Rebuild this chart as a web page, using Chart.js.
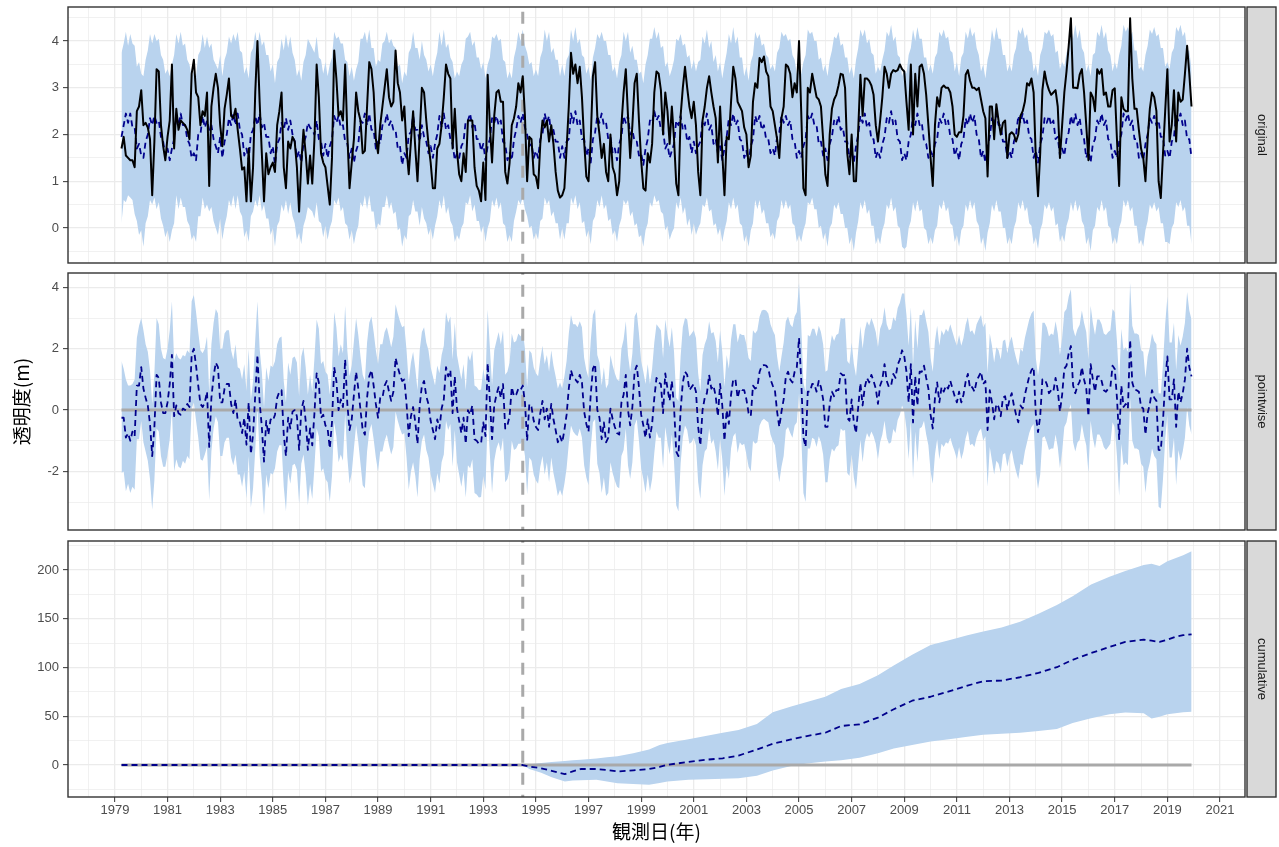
<!DOCTYPE html>
<html><head><meta charset="utf-8">
<script src="https://cdn.jsdelivr.net/npm/chart.js@4.4.1/dist/chart.umd.min.js"></script>
<style>
html,body{margin:0;padding:0;background:#fff;}
#wrap{position:relative;width:1279px;height:847px;overflow:hidden;background:#fff;}
canvas{position:absolute;left:0;}
</style></head><body>
<div id="wrap">
<canvas id="c1" width="1279" height="266" style="top:0px"></canvas>
<canvas id="c2" width="1279" height="267" style="top:266px"></canvas>
<canvas id="c3" width="1279" height="314" style="top:533px"></canvas>
</div>
<script>
// ---- monthly series, starting April 1979 ----
const startYear = 1979, startMonth = 4;
const interventionDate = 1994.5;

const observed = [
1.70,1.95,1.55,1.50,1.45,1.45,1.30,2.50,2.60,
2.95,2.20,2.25,2.15,1.90,0.70,1.85,3.40,3.35,2.20,1.75,1.45,
1.95,2.30,3.50,1.70,2.55,2.10,2.30,2.25,2.20,2.10,1.90,3.30,
3.60,2.90,2.80,2.20,2.50,2.40,2.90,0.90,2.60,3.00,3.30,3.00,
2.20,1.75,2.55,2.85,3.20,2.40,2.35,2.55,2.10,1.70,1.25,1.30,
0.57,1.70,0.57,1.30,2.90,4.00,2.70,1.60,0.57,1.60,1.15,1.30,
1.40,1.20,2.20,2.50,2.90,1.30,0.85,1.85,1.70,1.95,1.85,1.30,
0.35,1.40,2.10,1.60,0.95,1.55,0.95,1.90,3.50,2.80,1.60,1.40,
1.30,0.90,0.50,1.50,3.80,3.20,2.40,2.50,2.30,3.50,2.00,0.85,
1.40,1.90,2.90,2.50,2.30,1.60,1.65,2.60,3.55,3.40,2.90,1.90,
1.60,2.20,2.60,3.00,3.40,2.80,2.60,2.70,3.80,3.10,2.90,2.30,
2.60,1.70,1.15,1.85,2.50,1.70,1.00,2.00,3.00,2.90,2.30,1.80,
1.40,0.85,0.85,1.70,1.80,2.20,2.80,3.50,3.30,3.20,1.70,2.55,
1.65,1.15,1.00,1.60,1.20,2.30,2.30,2.30,1.30,0.90,0.80,0.57,
1.40,0.60,3.28,2.20,1.40,2.40,2.90,2.95,2.70,2.70,1.20,0.95,
1.40,2.20,2.35,2.60,3.10,2.90,3.25,2.40,1.00,1.95,1.90,1.15,
1.10,0.85,1.80,2.30,2.15,2.30,1.85,2.20,1.80,1.20,0.80,0.65,
0.70,0.85,1.70,2.60,3.75,3.30,3.50,3.10,3.45,2.80,1.85,1.10,
1.00,1.90,3.25,3.55,2.40,2.00,1.50,1.80,1.20,1.00,2.00,1.30,
1.15,0.70,1.00,2.20,2.90,3.40,2.40,1.50,2.20,3.10,3.30,2.30,
1.45,0.85,0.80,1.60,1.40,1.80,2.90,3.35,3.30,2.95,2.00,2.90,
2.50,1.80,2.60,1.90,0.95,0.70,2.40,3.00,3.45,3.00,2.60,2.35,
2.70,2.20,1.20,0.70,2.30,2.60,3.00,3.25,2.90,2.60,2.35,1.40,
2.60,1.60,0.70,1.95,1.90,2.70,3.45,3.20,2.70,2.60,2.50,2.15,
2.00,1.30,1.55,2.70,3.10,3.00,3.64,3.55,3.67,3.35,3.25,2.60,
2.50,2.20,1.90,1.50,2.35,2.60,3.50,3.45,3.30,2.80,3.10,2.90,
4.00,2.50,0.85,0.70,3.00,2.90,3.30,3.05,2.80,2.75,2.60,1.90,
1.15,0.90,2.00,2.55,2.75,2.85,3.05,3.30,3.28,3.00,1.60,1.15,
2.00,1.00,1.00,2.10,3.28,2.40,3.20,3.20,3.15,3.05,2.85,2.20,
1.85,2.30,2.80,3.45,3.30,3.00,3.30,3.38,3.35,3.38,3.50,3.40,
3.35,2.70,2.10,3.50,2.00,3.30,2.60,3.45,3.50,3.30,2.85,2.20,
1.50,0.90,2.20,2.80,2.60,3.00,3.05,3.00,3.00,2.90,2.60,2.00,
1.95,2.05,2.05,2.40,3.28,3.38,3.15,3.00,3.00,2.95,3.00,2.75,
2.50,2.35,1.10,2.60,2.60,1.90,2.65,2.30,2.00,2.25,2.30,1.50,
2.00,2.05,2.00,1.85,2.00,2.40,2.50,2.70,3.10,3.05,3.20,2.90,
1.50,0.68,1.60,2.95,3.35,3.10,2.95,2.85,2.90,2.95,2.60,1.50,
2.20,2.90,3.35,3.90,4.49,3.00,3.00,2.99,3.28,3.40,2.90,2.20,
1.45,2.90,2.80,2.50,3.40,3.30,3.40,2.85,2.90,2.60,2.60,2.95,
2.99,1.90,0.90,2.80,2.55,2.50,2.50,4.49,3.20,2.55,2.55,2.10,
1.70,1.50,1.00,1.90,2.55,2.90,2.80,2.50,1.00,0.64,1.60,2.50,
3.40,1.85,2.20,2.95,1.85,2.90,2.70,2.75,3.30,3.90,3.30,2.60
];

const predicted = [
1.95,2.20,2.45,2.25,2.45,2.15,2.15,1.70,1.80,
1.55,1.50,1.85,2.00,2.35,2.20,2.40,2.25,2.30,1.95,1.85,1.55,
1.70,1.45,1.70,1.90,2.40,2.20,2.45,2.20,2.20,1.90,1.80,1.50,
1.60,1.45,2.00,2.00,2.40,2.15,2.30,2.10,2.20,1.90,1.75,1.60,
1.95,1.50,1.85,2.00,2.35,2.20,2.45,2.20,2.45,2.10,2.00,1.55,
1.70,1.45,2.00,2.10,2.40,2.20,2.45,2.15,2.25,1.95,1.95,1.60,
1.75,1.35,1.80,1.90,2.25,2.10,2.35,2.10,2.30,2.00,1.85,1.50,
1.65,1.40,1.80,1.95,2.25,2.15,2.10,2.00,2.30,1.90,1.85,1.55,
1.80,1.50,1.75,1.90,2.40,2.25,2.40,2.15,2.20,1.85,1.80,1.50,
1.70,1.40,1.65,1.80,2.30,2.25,2.45,2.20,2.45,2.10,2.10,1.70,
1.85,1.80,2.20,2.20,2.45,2.20,2.30,2.10,2.10,1.70,1.75,1.35,
1.60,1.50,2.00,2.05,2.40,2.10,2.10,1.85,2.20,1.95,1.85,1.60,
1.75,1.50,1.80,2.00,2.40,2.15,2.45,2.10,2.20,1.90,1.80,1.45,
1.60,1.50,1.75,1.85,2.30,2.30,2.45,2.15,2.25,1.90,1.90,1.65,
1.80,1.45,1.75,1.90,2.35,2.25,2.40,2.20,2.30,1.85,1.80,1.45,
1.60,1.45,1.90,2.10,2.40,2.25,2.45,2.15,2.00,1.75,1.80,1.50,
1.65,1.50,1.90,2.00,2.45,2.25,2.40,2.00,2.10,1.85,1.85,1.50,
1.75,1.50,1.85,1.90,2.45,2.25,2.50,2.20,2.30,1.90,1.90,1.55,
1.70,1.40,1.90,2.05,2.40,2.25,2.45,2.20,2.25,1.90,1.95,1.60,
1.70,1.45,1.80,1.95,2.40,2.25,2.40,2.00,2.10,1.85,1.85,1.55,
1.60,1.35,1.70,1.90,2.30,2.25,2.50,2.30,2.40,2.10,2.10,1.70,
1.80,1.50,1.65,1.80,2.30,2.20,2.40,2.10,2.20,1.85,1.95,1.60,
1.85,1.60,1.75,1.85,2.30,2.20,2.45,2.10,2.20,1.80,1.90,1.60,
1.75,1.45,1.70,1.95,2.35,2.20,2.45,2.20,2.30,1.90,1.85,1.50,
1.65,1.40,1.75,1.90,2.40,2.25,2.40,2.10,2.20,1.90,1.90,1.60,
1.70,1.55,1.95,2.05,2.40,2.25,2.40,2.20,2.30,1.90,1.85,1.50,
1.65,1.50,1.75,1.90,2.40,2.30,2.45,2.20,2.20,1.80,1.85,1.55,
1.70,1.45,1.80,1.95,2.30,2.20,2.40,2.10,2.15,1.85,1.85,1.50,
1.65,1.40,1.75,2.00,2.40,2.25,2.45,2.15,2.25,1.90,1.90,1.50,
1.65,1.50,1.80,1.95,2.35,2.25,2.50,2.20,2.30,1.90,1.85,1.45,
1.60,1.45,1.85,2.00,2.40,2.20,2.45,2.20,2.25,1.85,1.80,1.50,
1.65,1.50,1.80,1.90,2.35,2.25,2.45,2.20,2.30,1.95,1.90,1.55,
1.70,1.45,1.80,1.90,2.35,2.20,2.45,2.25,2.40,2.00,1.90,1.50,
1.65,1.40,1.75,1.95,2.35,2.20,2.45,2.20,2.20,1.85,1.85,1.50,
1.65,1.50,1.85,2.00,2.40,2.25,2.45,2.20,2.30,1.95,1.90,1.50,
1.65,1.40,1.80,1.95,2.35,2.25,2.40,2.20,2.30,1.90,1.95,1.55,
1.70,1.55,1.90,2.05,2.40,2.20,2.45,2.20,2.35,2.00,1.90,1.50,
1.65,1.40,1.80,1.90,2.30,2.20,2.45,2.20,2.30,1.90,1.85,1.50,
1.65,1.50,1.85,2.00,2.45,2.30,2.45,2.20,2.30,1.90,1.90,1.50,
1.60,1.45,1.80,2.00,2.35,2.25,2.40,2.20,2.30,1.95,1.95,1.55,
1.65,1.50,1.85,1.95,2.40,2.30,2.45,2.20,2.30,1.90,1.90,1.50
];

const upper = [
3.75,3.95,4.20,3.90,4.15,3.95,3.90,3.45,3.55,
3.30,3.25,3.60,3.80,4.15,3.95,4.15,4.00,4.05,3.70,3.60,3.30,
3.40,3.25,3.50,3.70,4.15,3.95,4.20,3.90,3.95,3.60,3.50,3.25,
3.35,3.25,3.70,3.80,4.15,3.85,4.10,3.85,3.95,3.60,3.50,3.40,
3.70,3.25,3.60,3.75,4.10,3.95,4.15,4.00,4.20,3.80,3.75,3.30,
3.45,3.20,3.75,3.85,4.20,3.90,4.20,3.90,4.00,3.70,3.70,3.35,
3.50,3.10,3.55,3.65,4.05,3.80,4.15,3.85,4.10,3.75,3.60,3.25,
3.40,3.15,3.55,3.70,4.05,3.95,3.85,3.75,4.10,3.65,3.60,3.30,
3.55,3.25,3.50,3.65,4.20,4.05,4.10,3.95,3.95,3.60,3.55,3.25,
3.45,3.15,3.40,3.55,4.05,4.05,4.20,3.95,4.25,3.85,3.85,3.45,
3.60,3.55,3.95,4.00,4.20,3.95,4.05,3.90,3.85,3.45,3.50,3.10,
3.35,3.25,3.75,3.85,4.20,3.85,3.85,3.60,4.00,3.70,3.60,3.35,
3.50,3.25,3.55,3.75,4.20,3.90,4.25,3.85,3.95,3.65,3.55,3.20,
3.35,3.25,3.50,3.60,4.05,4.10,4.20,3.90,4.00,3.65,3.65,3.40,
3.55,3.20,3.50,3.65,4.10,4.05,4.15,4.00,4.05,3.60,3.55,3.20,
3.35,3.20,3.65,3.85,4.20,4.00,4.25,3.90,3.75,3.50,3.55,3.25,
3.40,3.25,3.65,3.80,4.25,4.00,4.20,3.75,3.85,3.60,3.60,3.25,
3.50,3.25,3.60,3.70,4.25,4.00,4.30,3.95,4.05,3.70,3.65,3.30,
3.45,3.15,3.65,3.85,4.15,4.05,4.20,4.00,4.00,3.70,3.70,3.35,
3.45,3.20,3.55,3.70,4.20,4.00,4.20,3.75,3.90,3.60,3.60,3.30,
3.35,3.10,3.50,3.70,4.05,4.05,4.30,4.05,4.20,3.85,3.90,3.45,
3.55,3.25,3.40,3.60,4.05,4.00,4.15,3.90,3.95,3.65,3.70,3.40,
3.60,3.35,3.55,3.60,4.10,3.95,4.25,3.85,4.00,3.55,3.70,3.35,
3.55,3.20,3.50,3.75,4.15,3.95,4.30,3.95,4.10,3.65,3.65,3.25,
3.45,3.15,3.55,3.70,4.20,4.05,4.15,3.90,3.95,3.70,3.65,3.40,
3.50,3.35,3.75,3.85,4.20,4.10,4.15,4.00,4.05,3.70,3.60,3.30,
3.45,3.30,3.55,3.70,4.25,4.15,4.20,4.00,4.00,3.60,3.65,3.35,
3.50,3.25,3.60,3.80,4.10,4.05,4.20,3.90,3.95,3.65,3.65,3.30,
3.45,3.20,3.60,3.85,4.25,4.10,4.25,3.95,4.05,3.75,3.70,3.30,
3.45,3.35,3.60,3.80,4.20,4.10,4.35,4.00,4.10,3.70,3.65,3.25,
3.40,3.30,3.70,3.85,4.25,4.00,4.30,4.05,4.05,3.65,3.65,3.35,
3.50,3.30,3.65,3.75,4.20,4.10,4.25,4.05,4.10,3.80,3.75,3.35,
3.55,3.25,3.65,3.75,4.20,4.05,4.30,4.10,4.20,3.85,3.70,3.35,
3.50,3.20,3.60,3.80,4.25,4.00,4.30,4.05,4.05,3.70,3.70,3.35,
3.50,3.35,3.70,3.85,4.25,4.15,4.30,4.05,4.15,3.80,3.75,3.35,
3.50,3.25,3.70,3.85,4.20,4.15,4.25,4.10,4.15,3.75,3.80,3.40,
3.55,3.45,3.75,3.90,4.30,4.05,4.35,4.05,4.25,3.85,3.75,3.35,
3.50,3.25,3.70,3.75,4.20,4.10,4.35,4.05,4.20,3.80,3.70,3.35,
3.55,3.40,3.70,3.90,4.35,4.20,4.30,4.10,4.20,3.80,3.80,3.40,
3.45,3.35,3.70,3.90,4.25,4.15,4.30,4.10,4.15,3.85,3.85,3.45,
3.55,3.40,3.75,3.85,4.30,4.20,4.35,4.10,4.20,3.80,3.80,3.40
];

const lower = [
0.10,0.60,0.55,0.70,0.65,0.60,0.30,0.15,-0.15,
-0.05,-0.40,0.10,0.25,0.60,0.50,0.65,0.40,0.55,0.20,0.05,-0.20,
-0.05,-0.30,-0.05,0.10,0.70,0.40,0.65,0.45,0.45,0.15,0.05,-0.25,
-0.15,-0.30,0.25,0.25,0.65,0.40,0.50,0.35,0.45,0.15,0.00,-0.15,
0.20,-0.25,0.05,0.25,0.60,0.45,0.70,0.40,0.70,0.35,0.25,-0.20,
-0.05,-0.30,0.25,0.35,0.60,0.45,0.70,0.35,0.50,0.20,0.20,-0.15,
0.00,-0.40,0.05,0.15,0.50,0.35,0.60,0.30,0.55,0.25,0.10,-0.25,
-0.10,-0.35,0.05,0.20,0.45,0.40,0.35,0.20,0.55,0.15,0.10,-0.20,
0.05,-0.25,0.00,0.15,0.60,0.50,0.65,0.35,0.45,0.10,0.05,-0.25,
-0.05,-0.35,-0.10,0.05,0.55,0.45,0.70,0.40,0.70,0.35,0.35,-0.05,
0.10,0.05,0.45,0.45,0.70,0.40,0.55,0.30,0.35,-0.05,0.00,-0.40,
-0.15,-0.25,0.25,0.30,0.60,0.35,0.35,0.05,0.45,0.20,0.10,-0.15,
0.00,-0.25,0.05,0.25,0.60,0.40,0.70,0.30,0.45,0.15,0.05,-0.30,
-0.15,-0.25,0.00,0.10,0.55,0.50,0.70,0.35,0.50,0.15,0.15,-0.10,
0.05,-0.30,0.00,0.15,0.60,0.45,0.65,0.40,0.55,0.10,0.05,-0.30,
-0.15,-0.30,0.15,0.35,0.60,0.50,0.65,0.40,0.25,0.00,0.05,-0.25,
-0.10,-0.25,0.15,0.20,0.65,0.50,0.60,0.25,0.35,0.10,0.10,-0.25,
0.00,-0.25,0.10,0.10,0.65,0.50,0.70,0.40,0.55,0.10,0.15,-0.20,
-0.05,-0.35,0.15,0.25,0.60,0.45,0.70,0.40,0.50,0.15,0.20,-0.15,
-0.05,-0.30,0.05,0.20,0.60,0.50,0.60,0.25,0.35,0.05,0.10,-0.20,
-0.15,-0.40,-0.05,0.10,0.55,0.45,0.70,0.55,0.60,0.35,0.30,-0.05,
0.05,-0.25,-0.10,0.00,0.55,0.40,0.65,0.30,0.45,0.05,0.20,-0.15,
0.10,-0.15,0.00,0.10,0.50,0.45,0.65,0.35,0.40,0.05,0.10,-0.15,
0.00,-0.30,-0.05,0.15,0.55,0.40,0.65,0.40,0.50,0.10,0.05,-0.30,
-0.15,-0.40,-0.05,0.10,0.60,0.40,0.60,0.30,0.40,0.10,0.10,-0.20,
-0.10,-0.25,0.15,0.25,0.60,0.40,0.60,0.40,0.50,0.10,0.05,-0.30,
-0.15,-0.30,-0.05,0.10,0.55,0.50,0.65,0.40,0.40,0.00,0.05,-0.25,
-0.10,-0.40,0.00,0.10,0.50,0.40,0.55,0.30,0.30,0.00,0.00,-0.35,
-0.20,-0.50,-0.10,0.15,0.55,0.40,0.60,0.30,0.40,0.05,0.05,-0.35,
-0.20,-0.35,-0.05,0.10,0.50,0.40,0.65,0.35,0.45,0.05,0.00,-0.40,
-0.45,-0.40,0.00,0.15,0.55,0.35,0.60,0.35,0.40,0.00,-0.05,-0.35,
-0.20,-0.35,-0.05,0.05,0.50,0.40,0.60,0.35,0.45,0.10,0.05,-0.30,
-0.15,-0.40,-0.05,0.05,0.50,0.35,0.60,0.40,0.55,0.15,0.05,-0.35,
-0.20,-0.50,-0.10,0.10,0.50,0.35,0.60,0.35,0.35,0.00,0.00,-0.35,
-0.20,-0.35,0.00,0.15,0.55,0.40,0.60,0.35,0.45,0.10,0.05,-0.35,
-0.20,-0.45,-0.05,0.10,0.50,0.40,0.55,0.35,0.45,0.05,0.10,-0.30,
-0.15,-0.30,0.05,0.20,0.55,0.35,0.60,0.35,0.50,0.15,0.05,-0.35,
-0.20,-0.50,-0.05,0.05,0.45,0.35,0.60,0.35,0.45,0.05,0.00,-0.35,
-0.20,-0.35,0.00,0.15,0.60,0.45,0.60,0.35,0.45,0.05,0.05,-0.35,
-0.25,-0.40,-0.05,0.15,0.50,0.40,0.55,0.35,0.45,0.10,0.10,-0.30,
-0.30,-0.35,0.00,0.10,0.55,0.45,0.60,0.35,0.45,0.05,0.05,-0.35
];

// cumulative effect (read at irregular dates)
const cumDates = [1979.25,1994.5,1994.75,1995.2,1995.6,1996.1,1996.4,1996.7,1997.3,1997.7,1998.1,1998.7,1999.3,1999.7,2000.0,2000.8,2001.5,2002.1,2002.7,2003.4,2004.0,2004.7,2005.3,2006.0,2006.6,2007.3,2008.0,2008.6,2009.3,2010.0,2010.7,2011.4,2012.0,2012.7,2013.4,2014.1,2014.8,2015.4,2016.1,2016.8,2017.4,2018.1,2018.4,2018.7,2019.0,2019.3,2019.6,2019.92];
const cumMean  = [0,0,-1.5,-3.4,-6,-9.3,-6.5,-4.1,-4.1,-5,-6.6,-5.5,-4.1,-2,0.3,3.1,5.5,6.9,9.7,15.9,21.7,26.2,29.7,33.1,40,41.7,48.6,57.2,65.9,70,75.5,81.4,85.9,86.6,90,94.5,100.3,107.9,114.8,121,126.2,128.6,127.5,126.2,128.5,131.4,133.1,134];
const cumLower = [0,0,-4,-8,-12.5,-16.9,-16,-15.5,-15,-17,-18.6,-19.5,-20.3,-18.5,-16.9,-15.2,-14.5,-14.1,-13.6,-11,-5.5,-1,1.5,3.5,5,7.5,12,17,20.5,24,26.5,29,31,32,33,35,37,43,48,52,53.8,53,47.6,49.5,52,53,54,54.5];
const cumUpper = [0,0,0.8,2,3,4,4.8,5.5,6.8,8,9,12,16,20.5,22.5,26.5,30,33.2,36,42,54,60,64.5,70,78,83,92,102,113,123,128,133,137,141,147,155,164,173,185,193,199,205,206.5,204,209,212,215,219.3];

// tick labels
const xTickLabels = [1979,1981,1983,1985,1987,1989,1991,1993,1995,1997,1999,2001,2003,2005,2007,2009,2011,2013,2015,2017,2019,2021];
const xMinorTicks = [1978,1980,1982,1984,1986,1988,1990,1992,1994,1996,1998,2000,2002,2004,2006,2008,2010,2012,2014,2016,2018,2020];
const y1Major = [0,1,2,3,4], y1Minor = [-0.5,0.5,1.5,2.5,3.5,4.5];
const y2Major = [-2,0,2,4], y2Minor = [-3,-1,1,3];
const y3Major = [0,50,100,150,200], y3Minor = [-25,25,75,125,175,225];
const stripLabels = ['original','pointwise','cumulative'];
const yTitle = '透明度(m)';
const xTitle = '観測日(年)';

// ---- derived tables ----
const dates = observed.map((_, i) => startYear + (startMonth - 1 + i) / 12);
const pts = (xs, ys) => ys.map((v, i) => ({x: xs[i], y: v}));
const pointwise = observed.map((v, i) => v - predicted[i]);
const pwLower = observed.map((v, i) => v - upper[i]);
const pwUpper = observed.map((v, i) => v - lower[i]);
const first = dates[0], last = dates[dates.length - 1];
const span = last - first;
const xMin = first - 0.05 * span, xMax = last + 0.05 * span;

const FONT = "'Liberation Sans', Arial, sans-serif";
const CJK = "'Noto Sans CJK JP', 'Liberation Sans', sans-serif";
const BAND = '#B9D3EE', NAVY = '#00008B', GREY = '#A9A9A9';
const GRID = '#EBEBEB';

const panelDeco = {
  id: 'panelDeco',
  afterDraw(chart, args, opts) {
    const {ctx, chartArea: a} = chart;
    ctx.save();
    ctx.strokeStyle = '#333333';
    ctx.lineWidth = 1.4;
    ctx.strokeRect(a.left, a.top, a.right - a.left, a.bottom - a.top);
    const sx = a.right + 2, sw = 29;
    ctx.fillStyle = '#D9D9D9';
    ctx.fillRect(sx, a.top, sw, a.bottom - a.top);
    ctx.strokeRect(sx, a.top, sw, a.bottom - a.top);
    ctx.translate(sx + sw / 2, (a.top + a.bottom) / 2);
    ctx.rotate(Math.PI / 2);
    ctx.fillStyle = '#1A1A1A';
    ctx.font = '13px ' + FONT;
    ctx.textAlign = 'center';
    ctx.textBaseline = 'middle';
    ctx.fillText(opts.label, 0, 0);
    ctx.restore();
  }
};

function noPad(ax) { ax.paddingTop = 0; ax.paddingBottom = 0; ax.paddingLeft = 0; ax.paddingRight = 0; }

function xScale(showLabels) {
  const isMajor = c => c.tick && xTickLabels.includes(c.tick.value);
  return {
    type: 'linear', min: xMin, max: xMax, bounds: 'data',
    afterBuildTicks: ax => { ax.ticks = xTickLabels.concat(xMinorTicks).filter(v => v > xMin && v < xMax).sort((a,b)=>a-b).map(v => ({value: v})); },
    afterFit: ax => { ax.height = showLabels ? 50 : 0; noPad(ax); },
    border: {display: false},
    grid: {
      color: GRID,
      lineWidth: c => isMajor(c) ? 1.3 : 0.7,
      drawTicks: showLabels, tickLength: 5, tickWidth: 1,
      tickColor: c => isMajor(c) ? '#333333' : 'rgba(0,0,0,0)'
    },
    ticks: {
      display: showLabels, autoSkip: false, maxRotation: 0, minRotation: 0, padding: 1,
      color: '#4D4D4D', font: {family: FONT, size: 13},
      callback: v => xTickLabels.includes(v) ? String(v) : ''
    },
    title: showLabels ? {display: true, text: xTitle, color: '#000', font: {family: CJK, size: 19}, padding: {top: 0, bottom: 4}} : {display: false}
  };
}

function yScale(min, max, majors, minors, title) {
  const isMajor = c => c.tick && majors.includes(c.tick.value);
  return {
    type: 'linear', min, max, bounds: 'data',
    afterBuildTicks: ax => { ax.ticks = majors.concat(minors).filter(v => v >= min && v <= max).sort((a,b)=>a-b).map(v => ({value: v})); },
    afterFit: ax => { ax.width = 68; noPad(ax); },
    border: {display: false},
    grid: {
      color: GRID,
      lineWidth: c => isMajor(c) ? 1.3 : 0.7,
      drawTicks: true, tickLength: 5, tickWidth: 1,
      tickColor: c => isMajor(c) ? '#333333' : 'rgba(0,0,0,0)'
    },
    ticks: {
      autoSkip: false, padding: 4, color: '#4D4D4D', font: {family: FONT, size: 13},
      callback: v => majors.includes(v) ? String(v) : ''
    },
    title: title ? {display: true, text: title, color: '#000', font: {family: CJK, size: 19}, padding: {top: 10, bottom: 0}} : {display: false}
  };
}

const lineDefaults = {pointRadius: 0, pointHoverRadius: 0, tension: 0, fill: false, borderJoinStyle: 'round'};
function vline(ymin, ymax) {
  return Object.assign({}, lineDefaults, {data: [{x: interventionDate, y: ymin}, {x: interventionDate, y: ymax}], borderColor: GREY, borderWidth: 3, borderDash: [12, 10]});
}
function baseline() {
  return Object.assign({}, lineDefaults, {data: [{x: first, y: 0}, {x: last, y: 0}], borderColor: GREY, borderWidth: 3});
}
function band(xs, lo, hi) {
  return [
    Object.assign({}, lineDefaults, {data: pts(xs, hi), borderWidth: 0, borderColor: 'rgba(0,0,0,0)', backgroundColor: BAND, fill: '+1'}),
    Object.assign({}, lineDefaults, {data: pts(xs, lo), borderWidth: 0, borderColor: 'rgba(0,0,0,0)', backgroundColor: BAND})
  ];
}
function dashed(xs, ys) {
  return Object.assign({}, lineDefaults, {data: pts(xs, ys), borderColor: NAVY, borderWidth: 1.8, borderDash: [6, 4]});
}

function makeChart(id, datasets, scales, padding, label) {
  return new Chart(document.getElementById(id), {
    type: 'line',
    data: {datasets},
    options: {
      responsive: false, maintainAspectRatio: false, animation: false, devicePixelRatio: 1,
      parsing: false, normalized: true,
      layout: {padding},
      scales,
      plugins: {legend: {display: false}, tooltip: {enabled: false}, panelDeco: {label}}
    },
    plugins: [panelDeco]
  });
}

const Y1 = [-0.75, 4.73], Y2 = [-3.91, 4.47], Y3 = [-32.8, 229.7];

makeChart('c1', [
  Object.assign({}, lineDefaults, {data: pts(dates, observed), borderColor: '#000000', borderWidth: 2}),
  dashed(dates, predicted),
  vline(Y1[0] - 1, Y1[1] + 1),
  ...band(dates, lower, upper)
], {x: xScale(false), y: yScale(Y1[0], Y1[1], y1Major, y1Minor, null)}, {top: 7, bottom: 3, left: 0, right: 34}, stripLabels[0]);

makeChart('c2', [
  dashed(dates, pointwise),
  vline(Y2[0] - 1, Y2[1] + 1),
  baseline(),
  ...band(dates, pwLower, pwUpper)
], {x: xScale(false), y: yScale(Y2[0], Y2[1], y2Major, y2Minor, yTitle)}, {top: 7, bottom: 3, left: 0, right: 34}, stripLabels[1]);

makeChart('c3', [
  dashed(cumDates, cumMean),
  vline(Y3[0] - 10, Y3[1] + 10),
  baseline(),
  ...band(cumDates, cumLower, cumUpper)
], {x: xScale(true), y: yScale(Y3[0], Y3[1], y3Major, y3Minor, null)}, {top: 8, bottom: 0, left: 0, right: 34}, stripLabels[2]);
</script>
</body></html>
